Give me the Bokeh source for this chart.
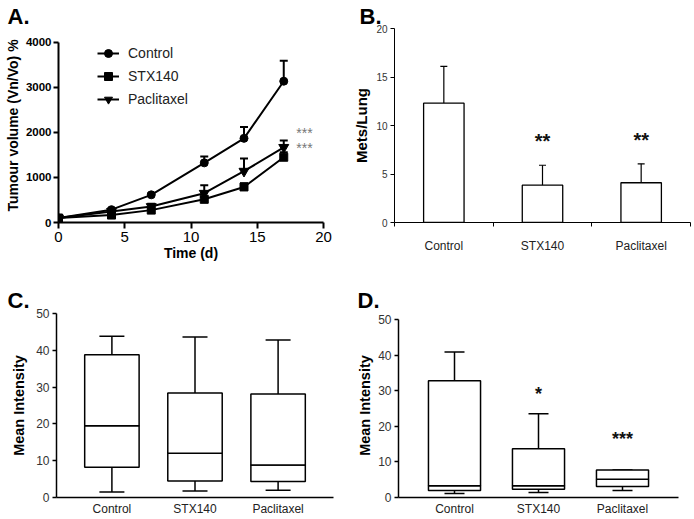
import numpy as np
from bokeh.plotting import figure
from bokeh.models import (Range1d, ColumnDataSource, Whisker, TeeHead, Legend, LegendItem,
                          Label, FixedTicker)
from bokeh.layouts import column, row
from bokeh.embed import file_html
from bokeh.resources import INLINE

FONT = "Liberation Sans"

# ---------------- Panel A: tumour volume over time ----------------
days = [0, 4, 7, 11, 14, 17]
control_vol = [100, 285, 615, 1325, 1870, 3140]
control_err = [10, 30, 30, 140, 250, 455]
stx_vol = [100, 165, 275, 515, 790, 1450]
stx_err = [10, 20, 30, 50, 80, 110]
pac_vol = [100, 245, 355, 650, 1140, 1670]
pac_err = [10, 40, 60, 180, 280, 150]
a_xticks = [0, 5, 10, 15, 20]
a_yticks = [0, 1000, 2000, 3000, 4000]

# ---------------- Panel B: mets per lung ----------------
groups = ["Control", "STX140", "Paclitaxel"]
mets_mean = [12.3, 3.85, 4.1]
mets_err = [3.8, 2.05, 1.95]
mets_sig = ["", "**", "**"]
b_yticks = [0, 5, 10, 15, 20]

# ---------------- Panel C: mean intensity (box) ----------------
c_low = [1.5, 1.8, 2.0]
c_q1 = [8.2, 4.5, 4.35]
c_med = [19.5, 12.0, 8.8]
c_q3 = [38.8, 28.4, 28.1]
c_high = [43.8, 43.6, 42.8]

# ---------------- Panel D: mean intensity (box) ----------------
d_low = [1.1, 1.4, 1.95]
d_q1 = [2.0, 2.3, 3.1]
d_med = [3.3, 3.3, 5.1]
d_q3 = [32.8, 13.7, 7.7]
d_high = [40.9, 23.5, 7.7]
d_sig = ["", "*", "***"]
box_yticks = [0, 10, 20, 30, 40, 50]

xs = [i + 0.5 for i in range(len(groups))]
overrides = {x: g for x, g in zip(xs, groups)}


def base_fig(letter, offset, standoff, **kw):
    p = figure(output_backend="svg", toolbar_location=None, **kw)
    p.grid.visible = False
    p.outline_line_color = None
    p.background_fill_color = "white"
    p.border_fill_color = "white"
    for ax in p.axis:
        ax.minor_tick_line_color = None
        ax.major_label_text_font = FONT
        ax.axis_label_text_font = FONT
        ax.major_tick_in = 0
    p.title.text = letter
    p.title.text_font = FONT
    p.title.text_font_size = "22px"
    p.title.text_font_style = "bold"
    p.title.text_color = "black"
    p.title.align = "left"
    p.title.offset = offset
    p.title.standoff = standoff
    return p


# ===== Panel A =====
pA = base_fig("A.", -51, 0, width=350, height=270, x_range=Range1d(0, 20),
              y_range=Range1d(0, 4311),
              min_border_left=58, min_border_right=27, min_border_top=28, min_border_bottom=48)
pA.xaxis.ticker = FixedTicker(ticks=a_xticks)
pA.yaxis.ticker = FixedTicker(ticks=a_yticks)
pA.yaxis.bounds = (0, 4000)
for ax in pA.axis:
    ax.axis_line_width = 2
    ax.major_tick_line_width = 2
    ax.major_label_text_color = "black"
    ax.axis_label_text_color = "black"
    ax.axis_label_text_font_style = "bold"
    ax.axis_label_text_font_size = "14px"
pA.yaxis.major_tick_out = 5
pA.xaxis.major_tick_out = 6
pA.yaxis.major_label_text_font_size = "11.5px"
pA.yaxis.major_label_text_font_style = "bold"
pA.yaxis.major_label_standoff = 2
pA.yaxis.axis_label = "Tumour volume (Vn/Vo) %"
pA.yaxis.axis_label_standoff = 2
pA.xaxis.major_label_text_font_size = "15px"
pA.xaxis.major_label_standoff = 3
pA.xaxis.axis_label = "Time (d)"
pA.xaxis.axis_label_standoff = 0

series = [("Control", control_vol, control_err, "circle", 8),
          ("STX140", stx_vol, stx_err, "square", 8),
          ("Paclitaxel", pac_vol, pac_err, "inverted_triangle", 10)]
items = []
for name, vals, errs, marker, size in series:
    src = ColumnDataSource(dict(x=days, y=vals, up=[v + e for v, e in zip(vals, errs)]))
    pA.add_layout(Whisker(base="x", lower="y", upper="up", source=src, line_width=2,
                          line_color="black", lower_head=None,
                          upper_head=TeeHead(size=8, line_width=2, line_color="black")))
    ln = pA.line("x", "y", source=src, line_width=2, line_color="black")
    sc = pA.scatter("x", "y", source=src, marker=marker, size=size, fill_color="black",
                    line_color="black")
    items.append(LegendItem(label=name, renderers=[ln, sc]))
legend = Legend(items=items, location=(39, 113), padding=0, margin=0, border_line_color=None,
                background_fill_alpha=0, glyph_width=22, glyph_height=20, label_height=20,
                spacing=3, label_standoff=9, label_text_font=FONT, label_text_font_size="14px",
                label_text_color="#222222")
pA.add_layout(legend)
for yv in (1980, 1655):
    pA.add_layout(Label(x=18.56, y=yv, text="***", text_font=FONT, text_font_size="14px",
                        text_color="#777777", text_align="center", text_baseline="middle"))

# ===== Panel B =====
pB = base_fig("B.", -35, 0, width=344, height=270, x_range=Range1d(0, 3),
              y_range=Range1d(0, 20),
              min_border_left=43, min_border_right=4, min_border_top=28, min_border_bottom=48)
pB.vbar(x=xs, top=mets_mean, width=0.41, fill_color="white", line_color="black", line_width=1.3)
srcB = ColumnDataSource(dict(x=xs, y=mets_mean, up=[m + e for m, e in zip(mets_mean, mets_err)]))
pB.add_layout(Whisker(base="x", lower="y", upper="up", source=srcB, line_width=1.2,
                      line_color="black", lower_head=None,
                      upper_head=TeeHead(size=7, line_width=1.2, line_color="black")))
for x, s, m, e in zip(xs, mets_sig, mets_mean, mets_err):
    if s:
        pB.add_layout(Label(x=x, y=m + e + 2.5, text=s, text_font=FONT, text_font_size="20px",
                            text_font_style="bold", text_color="#111111",
                            text_align="center", text_baseline="middle"))
pB.yaxis.ticker = FixedTicker(ticks=b_yticks)
pB.xaxis.ticker = FixedTicker(ticks=xs, minor_ticks=[0, 1, 2, 3])
pB.xaxis.major_label_overrides = overrides
pB.xaxis.major_tick_out = 0
pB.xaxis.minor_tick_line_color = "black"
pB.xaxis.minor_tick_out = 4
pB.xaxis.minor_tick_in = 0
pB.xaxis.major_label_standoff = 12
pB.xaxis.major_label_text_font_size = "12px"
pB.xaxis.major_label_text_color = "#222222"
pB.yaxis.major_tick_out = 4
pB.yaxis.major_label_standoff = 3
pB.yaxis.major_label_text_font_size = "10px"
pB.yaxis.major_label_text_color = "#333333"
pB.yaxis.axis_label = "Mets/Lung"
pB.yaxis.axis_label_text_font_size = "15px"
pB.yaxis.axis_label_text_font_style = "bold"
pB.yaxis.axis_label_text_color = "black"
pB.yaxis.axis_label_standoff = 3
for ax in pB.axis:
    ax.axis_line_width = 1
    ax.major_tick_line_width = 1


# ===== Panels C and D =====
def box_panel(letter, offset, standoff, low, q1, med, q3, high, box_w, cap, ytop, **kw):
    p = base_fig(letter, offset, standoff, x_range=Range1d(-1 / 6, 3 + 1 / 6),
                 y_range=Range1d(0, ytop), **kw)
    p.vbar(x=xs, bottom=q1, top=med, width=box_w, fill_color="white", line_color="black",
           line_width=1.5)
    p.vbar(x=xs, bottom=med, top=q3, width=box_w, fill_color="white", line_color="black",
           line_width=1.5)
    src = ColumnDataSource(dict(x=xs, low=low, q1=q1, q3=q3, high=high))
    p.add_layout(Whisker(base="x", lower="q3", upper="high", source=src, line_width=1.5,
                         line_color="black", lower_head=None,
                         upper_head=TeeHead(size=cap, line_width=1.5, line_color="black")))
    p.add_layout(Whisker(base="x", lower="low", upper="q1", source=src, line_width=1.5,
                         line_color="black", upper_head=None,
                         lower_head=TeeHead(size=cap, line_width=1.5, line_color="black")))
    p.yaxis.ticker = FixedTicker(ticks=box_yticks)
    p.yaxis.bounds = (0, 50)
    p.xaxis.ticker = FixedTicker(ticks=xs)
    p.xaxis.major_label_overrides = overrides
    p.xaxis.major_tick_out = 0
    p.xaxis.major_label_standoff = 4
    p.xaxis.major_label_text_font_size = "12px"
    p.xaxis.major_label_text_color = "#222222"
    p.yaxis.major_tick_out = 4
    p.yaxis.major_label_standoff = 3
    p.yaxis.major_label_text_font_size = "12px"
    p.yaxis.major_label_text_color = "#333333"
    p.yaxis.axis_label = "Mean Intensity"
    p.yaxis.axis_label_text_font_size = "14.5px"
    p.yaxis.axis_label_text_font_style = "bold"
    p.yaxis.axis_label_text_color = "black"
    for ax in p.axis:
        ax.axis_line_width = 1.5
        ax.major_tick_line_width = 1.5
    return p


pC = box_panel("C.", -49, 2, c_low, c_q1, c_med, c_q3, c_high, 0.655, 25, 50,
               width=350, height=248,
               min_border_left=56, min_border_right=17, min_border_top=43, min_border_bottom=21)
pC.yaxis.axis_label_standoff = 6

pD = box_panel("D.", -41, 2, d_low, d_q1, d_med, d_q3, d_high, 0.62, 20, 51.69,
               width=344, height=248,
               min_border_left=48, min_border_right=16, min_border_top=43, min_border_bottom=21)
pD.yaxis.axis_label_standoff = 2
for x, s, yv in zip(xs, d_sig, [None, 29.2, 16.3]):
    if s:
        pD.add_layout(Label(x=x, y=yv, text=s, text_font=FONT, text_font_size="18px",
                            text_font_style="bold", text_color="#111111",
                            text_align="center", text_baseline="middle"))

layout = column(row(pA, pB), row(pC, pD))
open("out.html", "w").write(file_html(layout, INLINE))
